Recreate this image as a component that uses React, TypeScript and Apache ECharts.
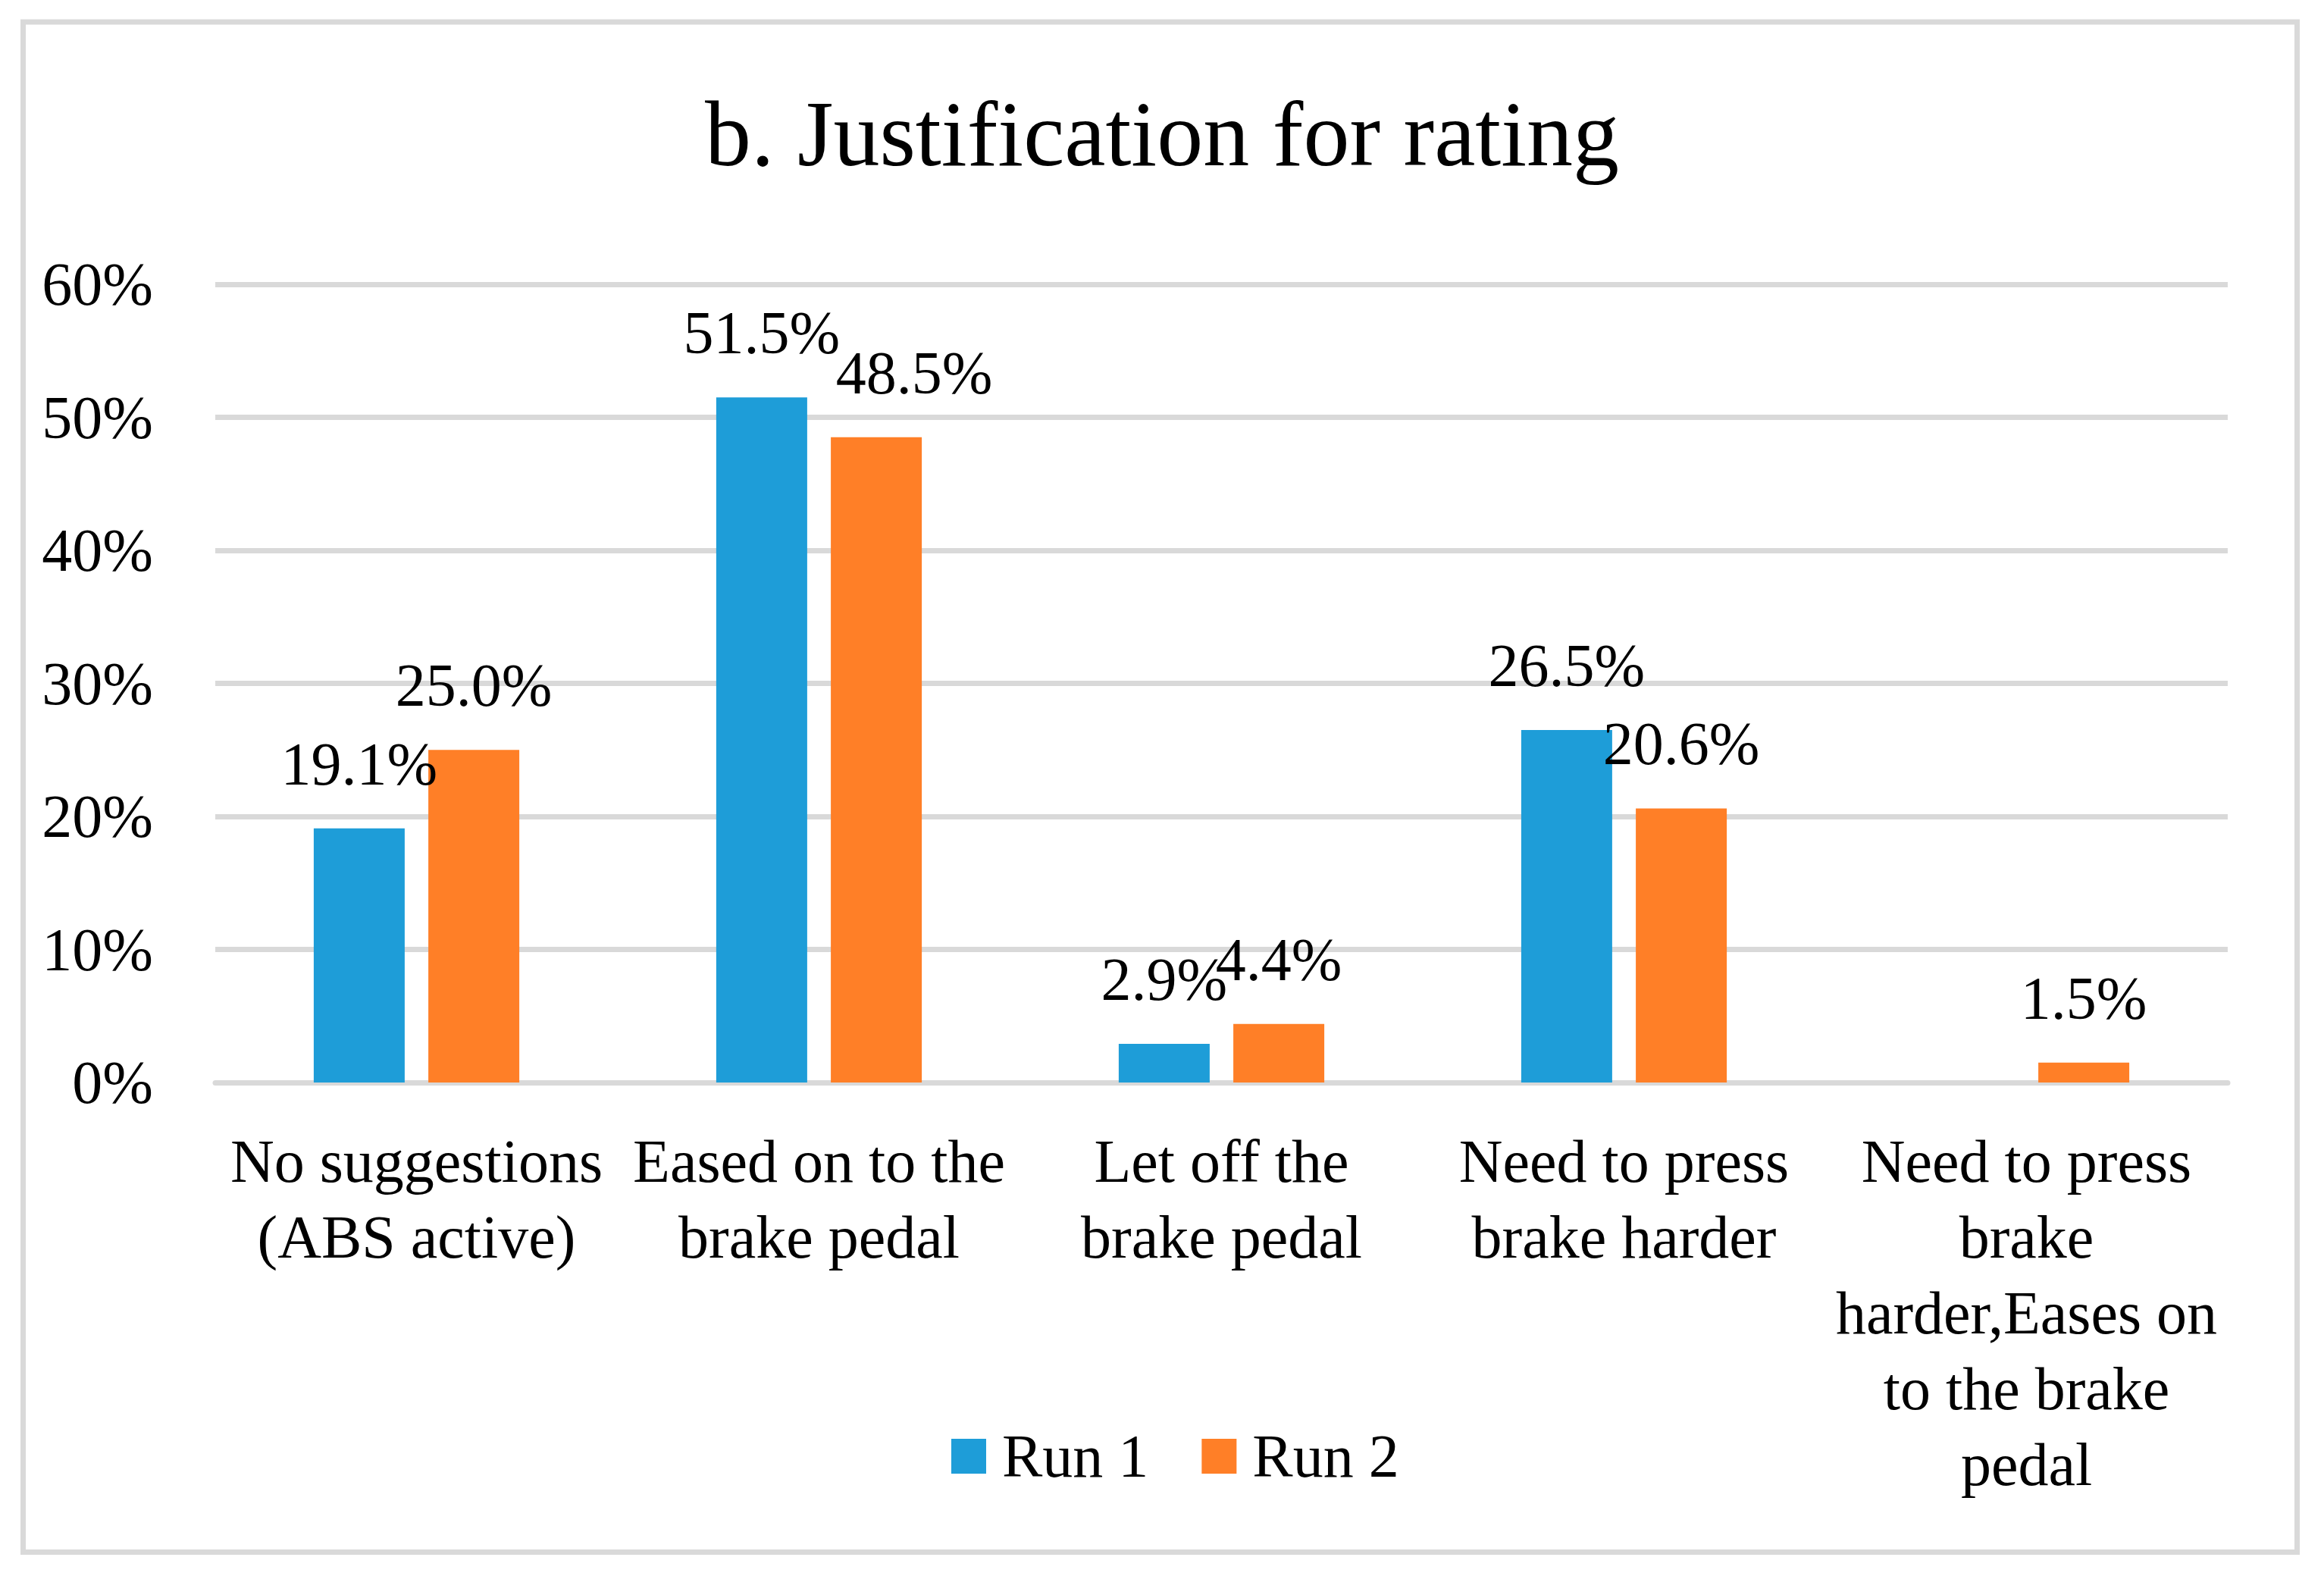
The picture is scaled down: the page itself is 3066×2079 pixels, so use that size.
import React, { useEffect, useRef } from "react";
import * as echarts from "echarts";

const title = "b. Justification for rating";
const categories = [
  "No suggestions\n(ABS active)",
  "Eased on to the\nbrake pedal",
  "Let off the\nbrake pedal",
  "Need to press\nbrake harder",
  "Need to press\nbrake\nharder,Eases on\nto the brake\npedal",
];
const seriesNames = ["Run 1", "Run 2"];
const run1 = [19.1, 51.5, 2.9, 26.5, null];
const run2 = [25.0, 48.5, 4.4, 20.6, 1.5];
const yTicks = { min: 0, max: 60, interval: 10 };

const FONT = "Liberation Serif";
const BLUE = "#1E9DD8";
const ORANGE = "#FF7F27";
const GRID = "#D9D9D9";

export default function App() {
  const ref = useRef<HTMLDivElement>(null);
  useEffect(() => {
    if (!ref.current) return;
    const chart = echarts.init(ref.current, null, { renderer: "svg" });
    const label = {
      show: true,
      position: "top",
      distance: 45,
      fontFamily: FONT,
      fontSize: 80,
      lineHeight: 80,
      color: "#000",
      formatter: (p: any) => (p.value == null ? "" : Number(p.value).toFixed(1) + "%"),
    };
    // Excel nudged the second label of the "Eased on" group to the right
    const run2Data = run2.map((v, i) => (i === 1 ? { value: v, label: { offset: [50, 0] } } : v));
    chart.setOption({
      animation: false,
      backgroundColor: "#fff",
      title: {
        text: title,
        left: "center",
        top: 110,
        textStyle: { fontFamily: FONT, fontSize: 122, fontWeight: "normal", color: "#000", lineHeight: 122 },
      },
      graphic: [
        {
          type: "rect",
          shape: { x: 30.5, y: 29, width: 3000, height: 2018.5 },
          style: { fill: "none", stroke: GRID, lineWidth: 7 },
          silent: true,
        },
      ],
      legend: {
        left: 1250,
        top: 1876,
        itemWidth: 46,
        itemHeight: 46,
        itemGap: 70,
        icon: "rect",
        data: seriesNames,
        textStyle: { fontFamily: FONT, fontSize: 80, color: "#000", padding: [0, 0, 0, 16] },
      },
      grid: { left: 284, right: 127, top: 375, bottom: 651, containLabel: false },
      xAxis: {
        type: "category",
        data: categories,
        axisLine: { show: true, lineStyle: { color: GRID, width: 7 } },
        axisTick: { show: false },
        axisLabel: {
          interval: 0,
          margin: 54,
          fontFamily: FONT,
          fontSize: 80,
          lineHeight: 100,
          color: "#000",
          align: "center",
        },
      },
      yAxis: {
        type: "value",
        min: yTicks.min,
        max: yTicks.max,
        interval: yTicks.interval,
        axisLine: { show: false },
        axisTick: { show: false },
        splitLine: { lineStyle: { color: GRID, width: 7 } },
        axisLabel: {
          margin: 82,
          fontFamily: FONT,
          fontSize: 80,
          color: "#000",
          formatter: "{value}%",
        },
      },
      series: [
        {
          name: seriesNames[0],
          type: "bar",
          data: run1,
          barWidth: 120,
          barGap: "26%",
          itemStyle: { color: BLUE },
          label,
        },
        {
          name: seriesNames[1],
          type: "bar",
          data: run2Data,
          barWidth: 120,
          barGap: "26%",
          itemStyle: { color: ORANGE },
          label,
        },
      ],
    });
    return () => chart.dispose();
  }, []);
  return (
    <div
      ref={ref}
      style={{ position: "absolute", left: 0, top: 0, width: 3066, height: 2079 }}
    />
  );
}
